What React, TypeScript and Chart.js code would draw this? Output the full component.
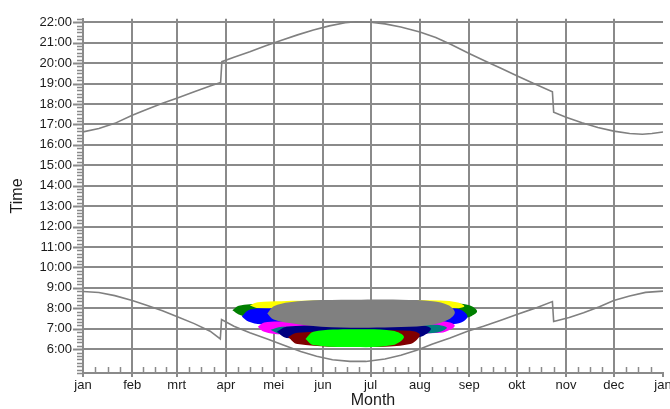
import React, { useEffect, useRef } from "react";
import { Chart, registerables } from "chart.js";

Chart.register(...registerables);

// ---------- axis data ----------
const monthLabels = ["jan", "feb", "mrt", "apr", "mei", "jun", "jul", "aug", "sep", "okt", "nov", "dec", "jan"];
const monthStartDays = [0, 31, 59, 90, 120, 151, 181, 212, 243, 273, 304, 334, 365];
const hourTicks = [6, 7, 8, 9, 10, 11, 12, 13, 14, 15, 16, 17, 18, 19, 20, 21, 22];

// ---------- sunset (upper line) ----------
const sunsetDays = [0, 10, 20, 31, 40, 50, 59, 70, 80, 86.6, 87.4, 95, 105, 115, 125, 135, 145, 155, 165, 172, 181, 190, 200, 212, 222, 232, 243, 253, 263, 273, 283, 295.4, 296.2, 304, 314, 324, 334, 344, 352, 358, 365];
const sunsetHours = [16.63, 16.8, 17.05, 17.45, 17.73, 18.03, 18.28, 18.6, 18.88, 19.05, 20.07, 20.28, 20.55, 20.85, 21.12, 21.38, 21.62, 21.82, 21.97, 22.02, 22.0, 21.92, 21.77, 21.52, 21.25, 20.9, 20.47, 20.1, 19.75, 19.38, 19.02, 18.6, 17.6, 17.35, 17.08, 16.85, 16.67, 16.55, 16.52, 16.55, 16.63];

// ---------- sunrise (lower line) ----------
const sunriseDays = [0, 10, 20, 31, 40, 50, 59, 70, 80, 86.4, 87.2, 95, 105, 116, 126, 137, 147, 157, 168, 178, 190, 200, 210, 220, 231, 242, 252, 263, 273, 285, 295.4, 296.2, 306, 315, 325, 334, 344, 354, 365];
const sunriseHours = [8.82, 8.77, 8.62, 8.38, 8.15, 7.88, 7.6, 7.25, 6.88, 6.5, 7.45, 7.12, 6.8, 6.5, 6.2, 5.88, 5.65, 5.48, 5.4, 5.4, 5.52, 5.7, 5.95, 6.25, 6.55, 6.88, 7.12, 7.42, 7.7, 8.02, 8.33, 7.35, 7.55, 7.78, 8.08, 8.38, 8.6, 8.78, 8.84];

// ---------- coloured regions (day, upper hour, lower hour) ----------
const greenDays = [94, 98, 105, 120, 175, 225, 238, 244, 248];
const greenTop = [7.9, 8.12, 8.2, 8.25, 8.3, 8.28, 8.22, 8.12, 7.85];
const greenBottom = [7.9, 7.7, 7.55, 7.45, 7.4, 7.45, 7.52, 7.6, 7.85];

const yellowDays = [105, 110, 125, 175, 225, 236, 240];
const yellowTop = [8.15, 8.3, 8.35, 8.4, 8.38, 8.28, 8.1];
const yellowBottom = [8.15, 8.0, 7.95, 7.9, 7.95, 8.0, 8.1];

const blueDays = [100, 104, 112, 175, 232, 238, 242];
const blueTop = [7.6, 7.9, 8.0, 8.0, 8.0, 7.92, 7.6];
const blueBottom = [7.6, 7.35, 7.22, 7.2, 7.22, 7.3, 7.6];

const magentaDays = [110, 114, 125, 175, 225, 231, 234];
const magentaTop = [7.1, 7.3, 7.35, 7.35, 7.38, 7.3, 7.15];
const magentaBottom = [7.1, 6.85, 6.72, 6.7, 6.8, 6.95, 7.15];

const tealDays = [118, 125, 175, 222, 229];
const tealTop = [6.95, 7.1, 7.15, 7.2, 7.05];
const tealBottom = [6.95, 6.72, 6.65, 6.8, 7.05];

const navyDays = [122, 128, 175, 212, 219];
const navyTop = [6.85, 7.1, 7.2, 7.2, 7.0];
const navyBottom = [6.85, 6.55, 6.45, 6.6, 7.0];

const maroonDays = [129, 135, 175, 206, 212];
const maroonTop = [6.6, 6.8, 6.9, 6.9, 6.7];
const maroonBottom = [6.6, 6.25, 6.1, 6.25, 6.7];

const limeDays = [140, 145, 170, 195, 202];
const limeTop = [6.5, 6.85, 6.97, 6.9, 6.6];
const limeBottom = [6.5, 6.2, 6.1, 6.2, 6.6];

const grayDays = [116, 120, 130, 150, 175, 200, 220, 230, 234];
const grayTop = [7.75, 8.1, 8.3, 8.4, 8.42, 8.42, 8.35, 8.15, 7.8];
const grayBottom = [7.75, 7.45, 7.28, 7.1, 7.05, 7.08, 7.2, 7.45, 7.8];

// ---------- styling ----------
const GRID = "#8a8a8a";
const LINE = "#808080";
const TEXT = "#1a1a1a";
const FONT = "'Liberation Sans', Arial, sans-serif";
const Y_MIN = 4 + 5 / 6;
const Y_MAX = 22 + 1 / 6;

function toPoints(days: number[], hours: number[]) {
  return days.map((d, i) => ({ x: d, y: hours[i] }));
}

function regionPoints(days: number[], top: number[], bottom: number[]) {
  const upper = days.map((d, i) => ({ x: d, y: top[i] }));
  const lower = days
    .map((d, i) => ({ x: d, y: bottom[i] }))
    .reverse();
  return upper.concat(lower.slice(1));
}

function region(days: number[], top: number[], bottom: number[], color: string, order: number) {
  return {
    data: regionPoints(days, top, bottom),
    backgroundColor: color,
    borderColor: color,
    borderWidth: 0,
    pointRadius: 0,
    tension: 0.35,
    fill: "shape",
    order,
  };
}

const tickMarks = {
  id: "tickMarks",
  afterDraw(chart: any) {
    const { ctx, chartArea, scales } = chart;
    const x = scales.x;
    const y = scales.y;
    ctx.save();
    ctx.strokeStyle = GRID;
    // x major ticks (below axis)
    ctx.lineWidth = 2;
    for (const d of monthStartDays) {
      const px = Math.round(x.getPixelForValue(d));
      ctx.beginPath();
      ctx.moveTo(px, chartArea.bottom);
      ctx.lineTo(px, chartArea.bottom + 4);
      ctx.stroke();
    }
    // x minor ticks (quarter months, above axis)
    ctx.lineWidth = 1.5;
    for (let i = 0; i < monthStartDays.length - 1; i++) {
      const a = monthStartDays[i];
      const b = monthStartDays[i + 1];
      for (let k = 1; k < 4; k++) {
        const px = Math.round(x.getPixelForValue(a + ((b - a) * k) / 4)) + 0.5;
        ctx.beginPath();
        ctx.moveTo(px, chartArea.bottom - 6);
        ctx.lineTo(px, chartArea.bottom);
        ctx.stroke();
      }
    }
    // y ticks every 10 minutes
    for (let m = Math.ceil(Y_MIN * 6); m <= Math.floor(Y_MAX * 6); m++) {
      const h = m / 6;
      const py = Math.round(y.getPixelForValue(h)) + 0.5;
      const major = m % 6 === 0 && h >= 6;
      ctx.lineWidth = major ? 2 : 1.5;
      ctx.beginPath();
      ctx.moveTo(chartArea.left - (major ? 10 : 6), py);
      ctx.lineTo(chartArea.left, py);
      ctx.stroke();
    }
    ctx.restore();
  },
};

export default function App() {
  const ref = useRef<HTMLCanvasElement | null>(null);

  useEffect(() => {
    document.body.style.margin = "0";
    const canvas = ref.current;
    if (!canvas) return;
    const chart = new Chart(canvas, {
      type: "line",
      data: {
        datasets: [
          {
            data: toPoints(sunriseDays, sunriseHours),
            borderColor: LINE,
            borderWidth: 1.6,
            pointRadius: 0,
            tension: 0,
            fill: false,
            order: 0,
          },
          {
            data: toPoints(sunsetDays, sunsetHours),
            borderColor: LINE,
            borderWidth: 1.6,
            pointRadius: 0,
            tension: 0,
            fill: false,
            order: 1,
          },
          region(grayDays, grayTop, grayBottom, "#808080", 2),
          region(limeDays, limeTop, limeBottom, "#00ff00", 3),
          region(maroonDays, maroonTop, maroonBottom, "#800000", 4),
          region(navyDays, navyTop, navyBottom, "#000080", 5),
          region(tealDays, tealTop, tealBottom, "#008080", 6),
          region(magentaDays, magentaTop, magentaBottom, "#ff00ff", 7),
          region(blueDays, blueTop, blueBottom, "#0000ff", 8),
          region(yellowDays, yellowTop, yellowBottom, "#ffff00", 9),
          region(greenDays, greenTop, greenBottom, "#007f00", 10),
        ] as any,
      },
      options: {
        responsive: false,
        animation: false,
        events: [],
        layout: { padding: { top: 12, right: 7, bottom: 0, left: 0 } },
        plugins: {
          legend: { display: false },
          tooltip: { enabled: false },
        },
        scales: {
          x: {
            type: "linear",
            min: 0,
            max: 365,
            afterBuildTicks: (s: any) => {
              s.ticks = monthStartDays.map((v) => ({ value: v }));
            },
            afterFit: (s: any) => {
              s.paddingLeft = 0;
              s.paddingRight = 0;
              s.height = 36;
            },
            ticks: {
              autoSkip: false,
              maxRotation: 0,
              padding: 5,
              color: TEXT,
              font: { family: FONT, size: 13 },
              callback: (_v: any, i: number) => monthLabels[i],
            },
            grid: {
              color: (c: any) => (c.tick && c.tick.value === 365 ? "rgba(0,0,0,0)" : GRID),
              lineWidth: 2,
              drawTicks: false,
            },
            border: { display: true, color: GRID, width: 2 },
            title: {
              display: true,
              text: "Month",
              color: TEXT,
              font: { family: FONT, size: 16 },
              padding: { top: 0, bottom: -1 },
            },
          },
          y: {
            type: "linear",
            min: Y_MIN,
            max: Y_MAX,
            afterBuildTicks: (s: any) => {
              s.ticks = hourTicks.map((v) => ({ value: v }));
            },
            afterFit: (s: any) => {
              s.width = 83;
            },
            ticks: {
              padding: 11,
              color: TEXT,
              font: { family: FONT, size: 13 },
              callback: (v: any) => `${v}:00`,
            },
            grid: { color: GRID, lineWidth: 2, drawTicks: false },
            border: { display: true, color: GRID, width: 2 },
            title: {
              display: true,
              text: "Time",
              color: TEXT,
              font: { family: FONT, size: 16 },
              padding: { top: 8, bottom: 0 },
            },
          },
        },
      },
      plugins: [tickMarks],
    } as any);
    return () => chart.destroy();
  }, []);

  return (
    <div style={{ position: "absolute", left: 0, top: 0, width: 670, height: 409 }}>
      <canvas ref={ref} width={670} height={409} style={{ display: "block" }} />
    </div>
  );
}
